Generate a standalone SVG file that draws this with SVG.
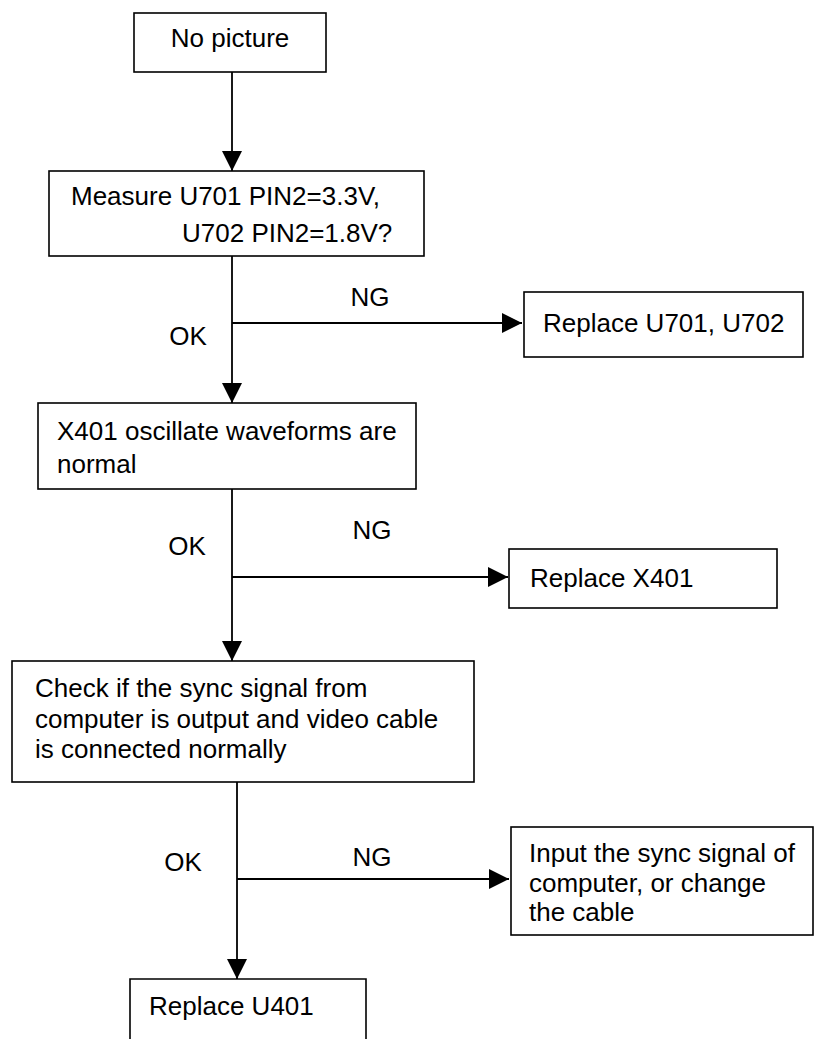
<svg xmlns="http://www.w3.org/2000/svg" width="823" height="1039" viewBox="0 0 823 1039">
<style>
.box{fill:#fff;stroke:#000;stroke-width:1.6}
.t{font-family:"Liberation Sans",Arial,sans-serif;font-size:26px;fill:#000}
.c{fill:none;stroke:#000;stroke-width:1.8}
</style>
<defs>
<marker id="ah" viewBox="0 0 20 20" refX="20" refY="10" markerWidth="20" markerHeight="20" markerUnits="userSpaceOnUse" orient="auto">
<path d="M0,0 L20,10 L0,20 Z" fill="#000"/>
</marker>
</defs>
<rect width="823" height="1039" fill="#fff"/>
<g id="connectors">
<line class="c" x1="232" y1="72" x2="232" y2="171" marker-end="url(#ah)"/>
<line class="c" x1="232" y1="256" x2="232" y2="403" marker-end="url(#ah)"/>
<line class="c" x1="232" y1="323" x2="522" y2="323" marker-end="url(#ah)"/>
<line class="c" x1="232" y1="489" x2="232" y2="661" marker-end="url(#ah)"/>
<line class="c" x1="232" y1="577" x2="508" y2="577" marker-end="url(#ah)"/>
<line class="c" x1="237" y1="782" x2="237" y2="979" marker-end="url(#ah)"/>
<line class="c" x1="237" y1="879" x2="509" y2="879" marker-end="url(#ah)"/>
<text class="t" x="370" y="306" text-anchor="middle">NG</text>
<text class="t" x="188" y="345" text-anchor="middle">OK</text>
<text class="t" x="372" y="539" text-anchor="middle">NG</text>
<text class="t" x="187" y="555" text-anchor="middle">OK</text>
<text class="t" x="372" y="866" text-anchor="middle">NG</text>
<text class="t" x="183" y="871" text-anchor="middle">OK</text>
</g>
<g id="n1">
<rect class="box" x="134" y="13" width="192" height="59"/>
<text class="t" x="230" y="47" text-anchor="middle">No picture</text>
</g>
<g id="n2">
<rect class="box" x="49" y="171" width="375" height="85"/>
<text class="t" x="71" y="205">Measure U701 PIN2=3.3V,</text>
<text class="t" x="182" y="242">U702 PIN2=1.8V?</text>
</g>
<g id="n3">
<rect class="box" x="524" y="292" width="279" height="65"/>
<text class="t" x="543" y="332">Replace U701, U702</text>
</g>
<g id="n4">
<rect class="box" x="38" y="403" width="378" height="86"/>
<text class="t" x="57" y="440">X401 oscillate waveforms are</text>
<text class="t" x="57" y="473">normal</text>
</g>
<g id="n5">
<rect class="box" x="509" y="549" width="268" height="59"/>
<text class="t" x="530" y="587">Replace X401</text>
</g>
<g id="n6">
<rect class="box" x="12" y="661" width="462" height="121"/>
<text class="t" x="35" y="697">Check if the sync signal from</text>
<text class="t" x="35" y="728">computer is output and video cable</text>
<text class="t" x="35" y="758">is connected normally</text>
</g>
<g id="n7">
<rect class="box" x="511" y="827" width="302" height="108"/>
<text class="t" x="529" y="862">Input the sync signal of</text>
<text class="t" x="529" y="892">computer, or change</text>
<text class="t" x="529" y="921">the cable</text>
</g>
<g id="n8">
<path class="box" d="M130,1040 V979 H366 V1040"/>
<text class="t" x="149" y="1015">Replace U401</text>
</g>
</svg>
